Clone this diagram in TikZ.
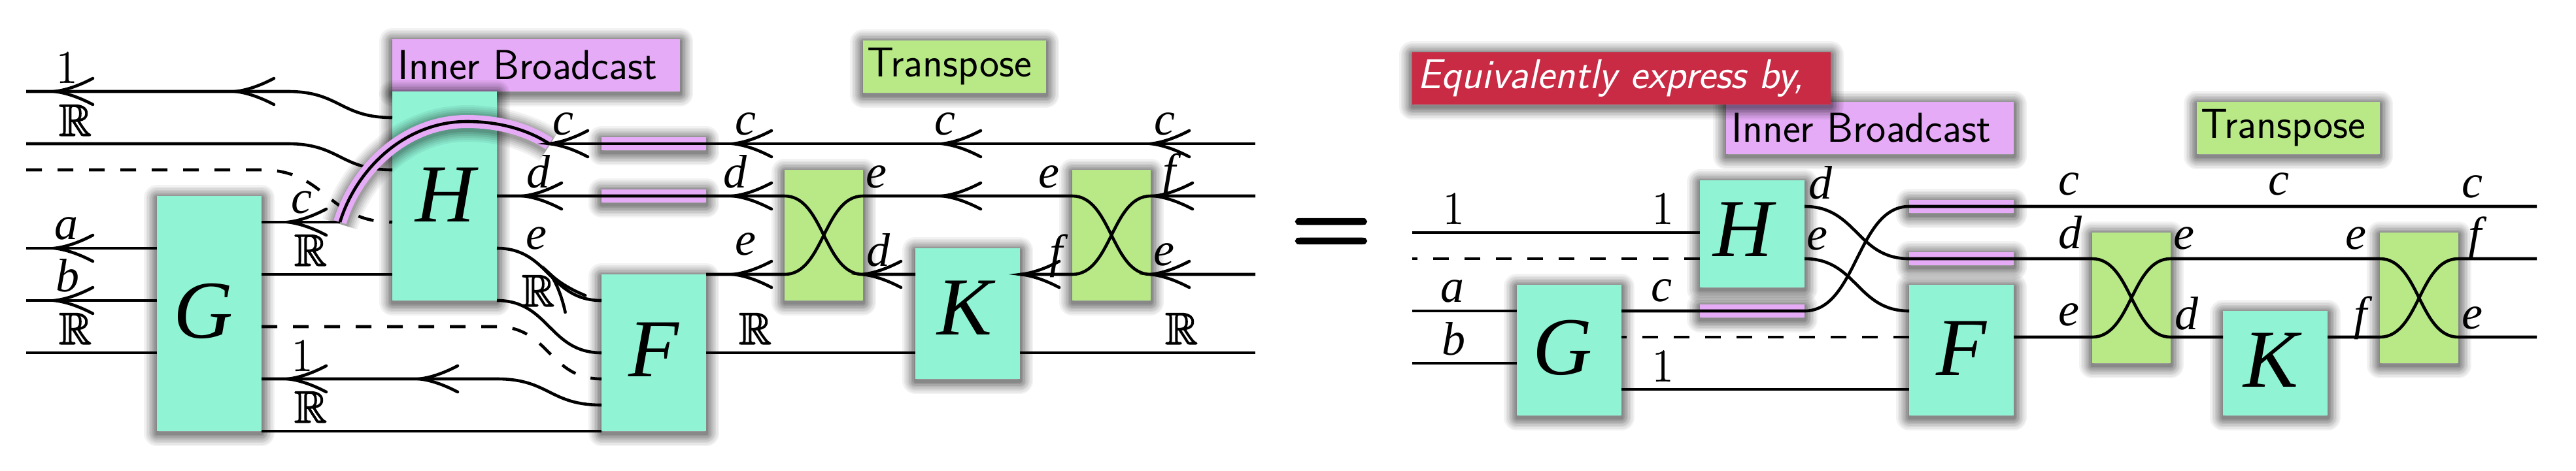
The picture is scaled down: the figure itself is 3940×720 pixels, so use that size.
\documentclass[tikz,border=0pt]{standalone}
\usepackage{amssymb}
\usepackage{graphicx}
\usepackage{fontspec}
\setmainfont{Liberation Serif}
\font\digf="Latin Modern Roman:embolden=0.6" at 36pt
\font\eqf="Latin Modern Roman:embolden=2.7" at 84pt
\newcommand{\shifted}[3]{\raisebox{#2}{\hspace*{#1}#3}}
\newcommand{\dsR}{\scalebox{3.45}{\special{pdf:code 2 Tr 0.22 w}$\mathbb{R}$\special{pdf:code 0 Tr}}}
\definecolor{boxteal}{HTML}{8FF3D4}
\definecolor{boxpink}{HTML}{E6ABF6}
\definecolor{boxgreen}{HTML}{B8E986}
\definecolor{boxred}{HTML}{C92A44}
\tikzset{
  sh/.style n args={2}{preaction={draw=black,opacity=#1,line width=#2,line join=round,transform canvas={yshift=-1.5pt}}},
  softshadow/.style={sh={.05}{20pt},sh={.05}{17.5pt},sh={.06}{15pt},sh={.07}{12.5pt},sh={.08}{10pt},sh={.09}{7.5pt},sh={.10}{5pt},sh={.10}{2.5pt}},
  arcshadow/.style={sh={.05}{28pt},sh={.06}{25pt},sh={.07}{22pt},sh={.08}{19pt},sh={.09}{16pt},sh={.10}{13pt}},
  base/.style={rectangle,inner sep=0pt,outer sep=0pt,softshadow},
  tealbox/.style={base,fill=boxteal,font=\fontsize{63}{70}\selectfont\itshape},
  greenbox/.style={base,fill=boxgreen,minimum width=60pt,minimum height=100pt},
  pinkbar/.style={base,fill=boxpink,minimum width=80pt,minimum height=10pt},
  tag/.style={base,font=\fontsize{32}{36}\selectfont\sffamily,minimum height=40pt},
  wire/.style={draw=black,line width=2.3pt},
  dashwire/.style={wire,dash pattern=on 12pt off 12pt},
  lab/.style={inner sep=0pt,outer sep=0pt,font=\fontsize{36}{40}\selectfont\itshape},
  num/.style={inner sep=0pt,outer sep=0pt,font=\digf},
  pics/barbhead/.style={code={
    \draw[wire,line cap=round] (59,-20) .. controls (38,-9) and (18,-2) .. (0,0) .. controls (18,2) and (38,9) .. (59,20);}}
}
\begin{document}
\begin{tikzpicture}[x=0.5pt,y=-0.5pt]
\useasboundingbox (0,0) rectangle (3940,720);
% ---------- left diagram: shapes
\node[tag,fill=boxpink,minimum width=220pt] (ibL) at (820,100) {\shifted{-13pt}{0pt}{Inner Broadcast}};
\node[tag,fill=boxgreen,minimum width=140pt] (trL) at (1460,102) {\shifted{-8pt}{0pt}{Transpose}};
\node[pinkbar] (pbL1) at (1000,220) {};
\node[pinkbar] (pbL2) at (1000,300) {};
\node[tealbox,minimum width=80pt,minimum height=180pt] (GL) at (320,480) {\shifted{-9pt}{4pt}{G}};
\node[tealbox,minimum width=80pt,minimum height=160pt] (HL) at (680,300) {\shifted{1pt}{2pt}{H}};
\node[tealbox,minimum width=80pt,minimum height=120pt] (FL) at (1000,540) {\shifted{0pt}{5pt}{F}};
\node[tealbox,minimum width=80pt,minimum height=100pt] (KL) at (1480,480) {\shifted{-4pt}{9pt}{K}};
\node[greenbox] (TL1) at (1260,360) {};
\node[greenbox] (TL2) at (1700,360) {};
\node[inner sep=0pt,font=\eqf] (eq) at (2036,366) {=};
% ---------- right diagram: shapes
\node[tag,fill=boxpink,minimum width=220pt] (ibR) at (2860,196) {\shifted{-13pt}{0pt}{Inner Broadcast}};
\node[tag,fill=boxred,text=white,font=\fontsize{32}{36}\selectfont\sffamily\itshape,minimum width=320pt] (eqv) at (2480,120) {\shifted{-16pt}{0pt}{Equivalently express by,}};
\node[tag,fill=boxgreen,minimum width=140pt] (trR) at (3500,196) {\shifted{-8pt}{0pt}{Transpose}};
\node[pinkbar] (pbR1) at (2680,476) {};
\node[pinkbar] (pbR2) at (3000,316) {};
\node[pinkbar] (pbR3) at (3000,396) {};
\node[tealbox,minimum width=80pt,minimum height=100pt] (GR) at (2400,536) {\shifted{-10pt}{4pt}{G}};
\node[tealbox,minimum width=80pt,minimum height=82pt] (HR) at (2680,358) {\shifted{-14pt}{7pt}{H}};
\node[tealbox,minimum width=80pt,minimum height=100pt] (FR) at (3000,536) {\shifted{0pt}{3pt}{F}};
\node[tealbox,minimum width=80pt,minimum height=80pt] (KR) at (3480,556) {\shifted{-7pt}{5pt}{K}};
\node[greenbox] (TR1) at (3260,456) {};
\node[greenbox] (TR2) at (3700,456) {};
% free ends
\coordinate (arcA) at (520,340);
\coordinate (arcB) at (840,220);
\coordinate (endLtop) at (1920,220);
% ---------- left wires
\draw[wire] (40,140) -- (440,140) .. controls (520,140) and (520,180) .. (HL.west |- 0,180);
\draw[wire] (40,220) -- (440,220) .. controls (520,220) and (520,260) .. (HL.west |- 0,260);
\draw[dashwire] (40,260) -- (400,260) .. controls (500,260) and (500,340) .. (HL.west |- 0,340);
\draw[wire] (40,380) -- (GL.west |- 0,380);
\draw[wire] (40,460) -- (GL.west |- 0,460);
\draw[wire] (40,540) -- (GL.west |- 0,540);
\draw[wire] (GL.east |- 0,420) -- (HL.west |- 0,420);
\draw[wire] (GL.east |- 0,340) -- (arcA);
\draw[dashwire] (GL.east |- 0,500) -- (760,500) .. controls (840,500) and (840,580) .. (FL.west |- 0,580);
\draw[wire] (GL.east |- 0,580) -- (760,580) .. controls (840,580) and (840,620) .. (FL.west |- 0,620);
\draw[wire] (GL.east |- 0,660) -- (FL.west |- 0,660);
\draw[wire] (HL.east |- 0,380) .. controls (840,380) and (840,460) .. (FL.west |- 0,460);
\draw[wire] (HL.east |- 0,460) .. controls (840,460) and (840,540) .. (FL.west |- 0,540);
\draw[wire] (arcB) -- (endLtop);
\draw[wire] (HL.east |- 0,300) -- (TL1.west |- 0,300) .. controls (1260,300) and (1260,420) .. (TL1.east |- 0,420) -- (KL.west |- 0,420);
\draw[wire] (FL.east |- 0,420) -- (TL1.west |- 0,420) .. controls (1260,420) and (1260,300) .. (TL1.east |- 0,300) -- (TL2.west |- 0,300) .. controls (1700,300) and (1700,420) .. (TL2.east |- 0,420) -- (1920,420);
\draw[wire] (KL.east |- 0,420) -- (TL2.west |- 0,420) .. controls (1700,420) and (1700,300) .. (TL2.east |- 0,300) -- (1920,300);
\draw[wire] (FL.east |- 0,540) -- (KL.west |- 0,540);
\draw[wire] (KL.east |- 0,540) -- (1920,540);
% arc
\draw[draw=boxpink,line width=10pt,arcshadow] (arcA) .. controls (545,258) and (620,186) .. (714,186) .. controls (760,186) and (805,197) .. (arcB);
\draw[wire] (arcA) .. controls (545,258) and (620,186) .. (714,186) .. controls (760,186) and (805,197) .. (arcB);
% arrow heads, left
\foreach \hx/\hy in {83/140,360/140,83/380,83/460,440/340,440/580,641/580,840/220,800/300,1121/220,1441/220,1760/220,1121/300,1441/300,1765/300,1121/420,1319/420,1561/420,1760/420}
  \pic at (\hx,\hy) {barbhead};
\pic[rotate=-50] at (842,420) {barbhead};
% labels, left
\node[num] (l1) at (102,103) {1};
\node[inner sep=0pt] (l2) at (115,184) {\dsR};
\node[lab] (l3) at (101,350) {a};
\node[lab] (l4) at (103,422) {b};
\node[inner sep=0pt] (l5) at (115,503) {\dsR};
\node[lab] (l6) at (461,310) {c};
\node[inner sep=0pt] (l7) at (475,383) {\dsR};
\node[num] (l8) at (462,544) {1};
\node[inner sep=0pt] (l9) at (475,623) {\dsR};
\node[lab] (l10) at (861,190) {c};
\node[lab] (l11) at (823,263) {d};
\node[lab] (l12) at (820,365) {e};
\node[inner sep=0pt] (l13) at (823,445) {\dsR};
\node[lab] (l14) at (1140,190) {c};
\node[lab] (l15) at (1445,190) {c};
\node[lab] (l16) at (1781,190) {c};
\node[lab] (l17) at (1124,263) {d};
\node[lab] (l18) at (1340,271) {e};
\node[lab] (l19) at (1604,271) {e};
\node[lab] (l20) at (1788,268) {f};
\node[lab] (l21) at (1140,374) {e};
\node[lab] (l22) at (1343,383) {d};
\node[lab] (l23) at (1615,392) {f};
\node[lab] (l24) at (1780,390) {e};
\node[inner sep=0pt] (l25) at (1155,503) {\dsR};
\node[inner sep=0pt] (l26) at (1807,503) {\dsR};
% ---------- right wires
\draw[wire] (2160,356) -- (HR.west |- 0,356);
\draw[dashwire] (HR.west |- 0,396) -- (2160,396);
\draw[wire] (2160,476) -- (GR.west |- 0,476);
\draw[wire] (2160,556) -- (GR.west |- 0,556);
\draw[wire] (GR.east |- 0,476) -- (2760,476) .. controls (2840,476) and (2840,316) .. (2920,316) -- (3880,316);
\draw[dashwire] (FR.west |- 0,516) -- (GR.east |- 0,516);
\draw[wire] (GR.east |- 0,596) -- (FR.west |- 0,596);
\draw[wire] (HR.east |- 0,316) .. controls (2840,316) and (2840,396) .. (2920,396) -- (TR1.west |- 0,396) .. controls (3260,396) and (3260,516) .. (TR1.east |- 0,516) -- (KR.west |- 0,516);
\draw[wire] (HR.east |- 0,396) .. controls (2840,396) and (2840,476) .. (FR.west |- 0,476);
\draw[wire] (FR.east |- 0,516) -- (TR1.west |- 0,516) .. controls (3260,516) and (3260,396) .. (TR1.east |- 0,396) -- (TR2.west |- 0,396) .. controls (3700,396) and (3700,516) .. (TR2.east |- 0,516) -- (3880,516);
\draw[wire] (KR.east |- 0,516) -- (TR2.west |- 0,516) .. controls (3700,516) and (3700,396) .. (TR2.east |- 0,396) -- (3880,396);
% labels, right
\node[num] (r1) at (2223,319) {1};
\node[num] (r2) at (2543,319) {1};
\node[lab] (r3) at (2221,446) {a};
\node[lab] (r4) at (2223,519) {b};
\node[lab] (r5) at (2541,445) {c};
\node[num] (r6) at (2543,560) {1};
\node[lab] (r7) at (2784,280) {d};
\node[lab] (r8) at (2779,366) {e};
\node[lab] (r9) at (3164,282) {c};
\node[lab] (r10) at (3485,282) {c};
\node[lab] (r11) at (3781,286) {c};
\node[lab] (r12) at (3166,356) {d};
\node[lab] (r13) at (3340,365) {e};
\node[lab] (r14) at (3603,365) {e};
\node[lab] (r15) at (3785,365) {f};
\node[lab] (r16) at (3164,482) {e};
\node[lab] (r17) at (3344,480) {d};
\node[lab] (r18) at (3610,487) {f};
\node[lab] (r19) at (3781,487) {e};
\end{tikzpicture}
\end{document}
